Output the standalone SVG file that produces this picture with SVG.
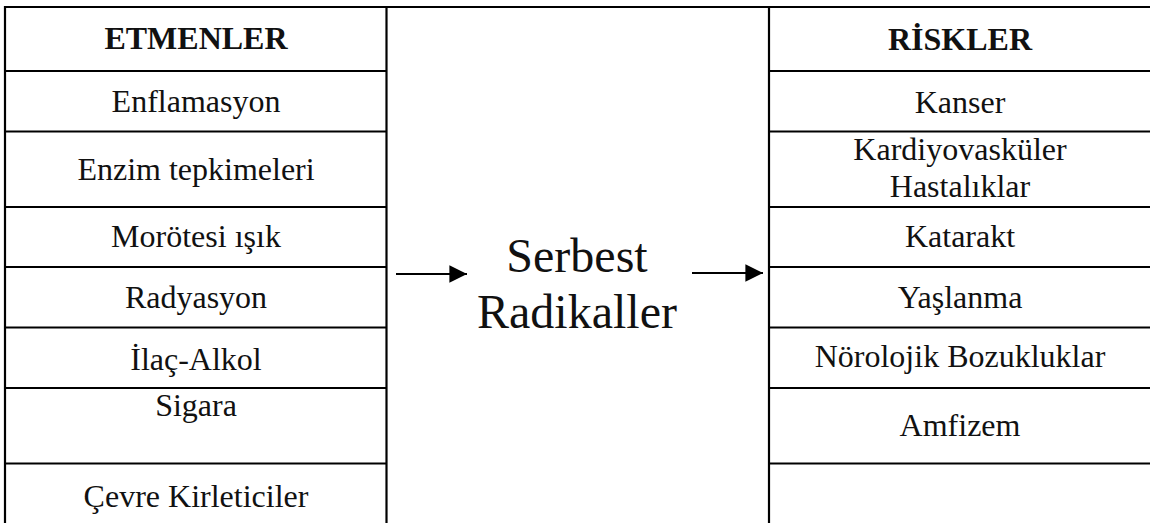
<svg xmlns="http://www.w3.org/2000/svg" width="1150" height="523" viewBox="0 0 1150 523">
<defs>
<style>
.ln{stroke:#000;stroke-width:2.2;fill:none}
.t{font-family:"Liberation Serif","Times New Roman",serif;font-size:32px;fill:#111;text-anchor:middle}
.h{font-weight:bold}
.big{font-size:48px}
</style>
<marker id="ah" markerWidth="8" markerHeight="8" refX="8" refY="4" orient="auto" markerUnits="strokeWidth">
<path d="M0,0 L8,4 L0,8 Z" fill="#000"/>
</marker>
</defs>
<rect width="1150" height="523" fill="#fff"/>
<g id="grid">
<line class="ln" x1="5" y1="7" x2="1150" y2="7"/>
<line class="ln" x1="5" y1="6" x2="5" y2="523"/>
<line class="ln" x1="386.5" y1="6" x2="386.5" y2="523"/>
<line class="ln" x1="769" y1="6" x2="769" y2="523"/>
<line class="ln" x1="5" y1="71" x2="386.5" y2="71"/>
<line class="ln" x1="5" y1="131.5" x2="386.5" y2="131.5"/>
<line class="ln" x1="5" y1="207" x2="386.5" y2="207"/>
<line class="ln" x1="5" y1="267" x2="386.5" y2="267"/>
<line class="ln" x1="5" y1="327.5" x2="386.5" y2="327.5"/>
<line class="ln" x1="5" y1="388" x2="386.5" y2="388"/>
<line class="ln" x1="5" y1="463.5" x2="386.5" y2="463.5"/>
<line class="ln" x1="769" y1="71" x2="1150" y2="71"/>
<line class="ln" x1="769" y1="131.5" x2="1150" y2="131.5"/>
<line class="ln" x1="769" y1="207" x2="1150" y2="207"/>
<line class="ln" x1="769" y1="267" x2="1150" y2="267"/>
<line class="ln" x1="769" y1="327.5" x2="1150" y2="327.5"/>
<line class="ln" x1="769" y1="388" x2="1150" y2="388"/>
<line class="ln" x1="769" y1="463.5" x2="1150" y2="463.5"/>
</g>
<g id="etmenler"><text class="t h" x="196" y="49">ETMENLER</text></g>
<g id="enflamasyon"><text class="t" x="196" y="112">Enflamasyon</text></g>
<g id="enzim"><text class="t" x="196" y="180">Enzim tepkimeleri</text></g>
<g id="morotesi"><text class="t" x="196" y="247">Morötesi ışık</text></g>
<g id="radyasyon"><text class="t" x="196" y="308">Radyasyon</text></g>
<g id="ilac"><text class="t" x="196" y="370">İlaç-Alkol</text></g>
<g id="sigara"><text class="t" x="196" y="416">Sigara</text></g>
<g id="cevre"><text class="t" x="196" y="507">Çevre Kirleticiler</text></g>
<g id="serbest"><text class="t big" x="577" y="272">Serbest</text><text class="t big" x="577" y="328">Radikaller</text></g>
<g id="riskler"><text class="t h" x="960" y="50">RİSKLER</text></g>
<g id="kanser"><text class="t" x="960" y="113">Kanser</text></g>
<g id="kardiyo"><text class="t" x="960" y="160">Kardiyovasküler</text><text class="t" x="960" y="197">Hastalıklar</text></g>
<g id="katarakt"><text class="t" x="960" y="247">Katarakt</text></g>
<g id="yaslanma"><text class="t" x="960" y="308">Yaşlanma</text></g>
<g id="norolojik"><text class="t" x="960" y="367">Nörolojik Bozukluklar</text></g>
<g id="amfizem"><text class="t" x="960" y="436">Amfizem</text></g>
<g id="connectors">
<line class="ln" x1="396" y1="274" x2="467" y2="274" marker-end="url(#ah)"/>
<line class="ln" x1="692" y1="273" x2="763" y2="273" marker-end="url(#ah)"/>
</g>
</svg>
